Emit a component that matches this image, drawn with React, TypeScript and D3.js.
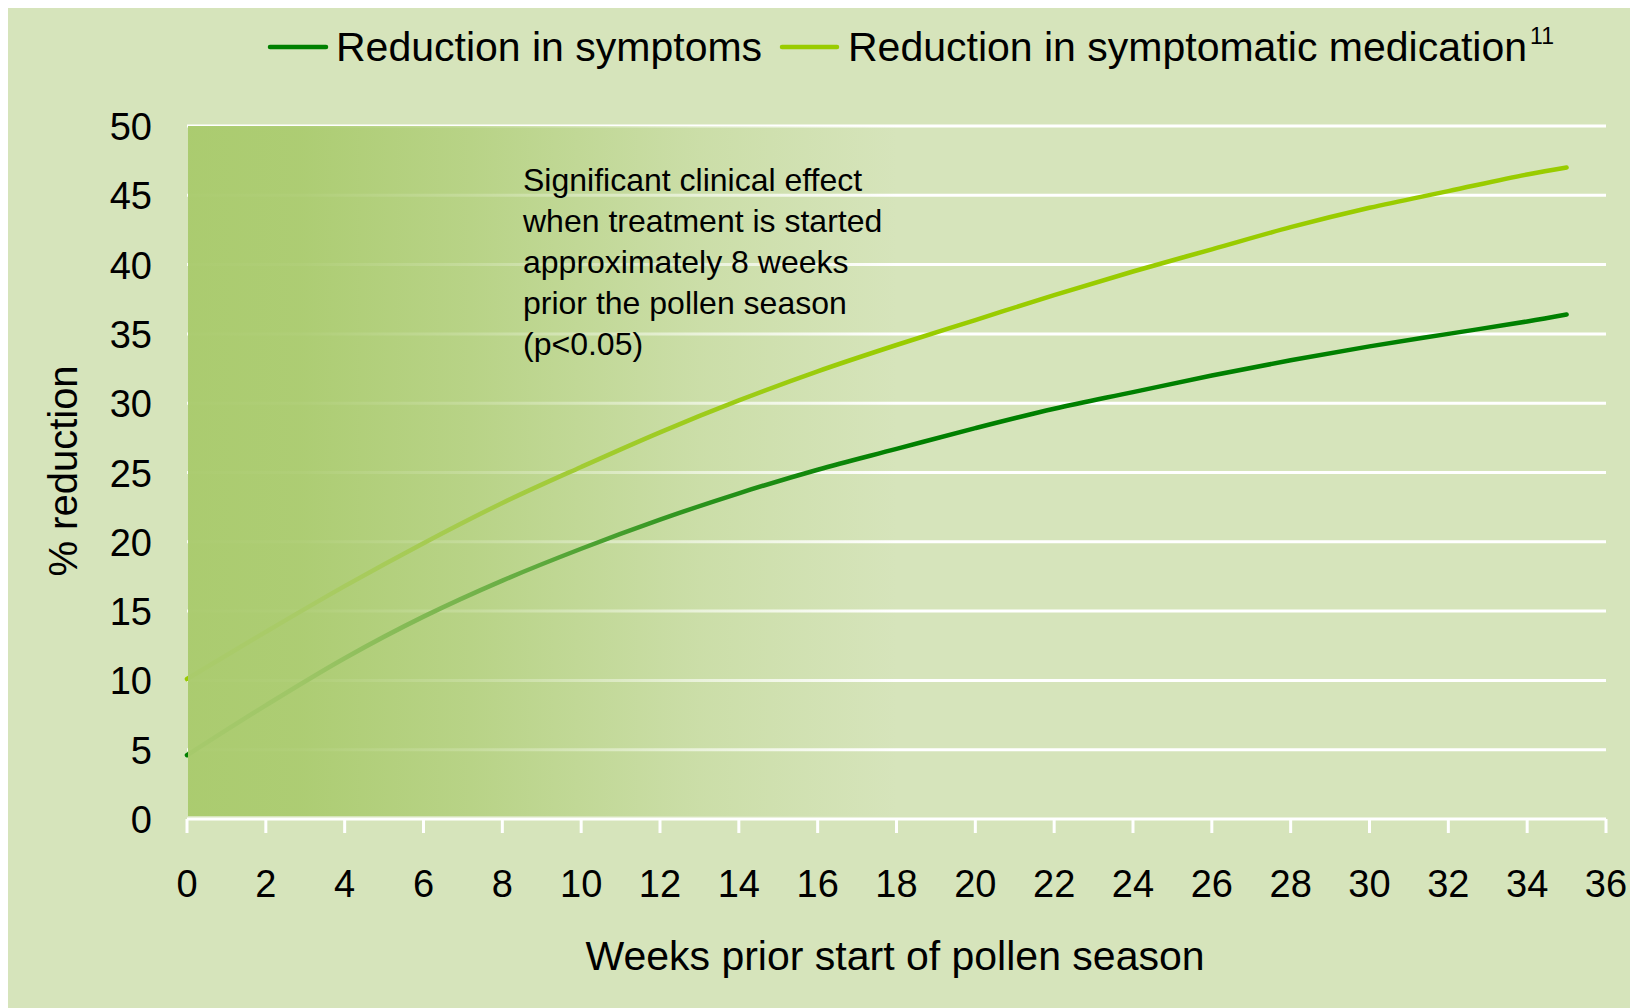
import React, { useEffect } from "react";
import * as d3 from "d3";

const weeks = [0, 2, 4, 6, 8, 10, 12, 14, 16, 18, 20, 22, 24, 26, 28, 30, 32, 34, 35];
const symptoms = [4.6, 8.2, 11.6, 14.6, 17.2, 19.5, 21.6, 23.5, 25.2, 26.7, 28.2, 29.6, 30.8, 32.0, 33.1, 34.1, 35.0, 35.9, 36.4];
const medication = [10.1, 13.5, 16.8, 19.9, 22.8, 25.4, 27.9, 30.2, 32.3, 34.2, 36.0, 37.8, 39.5, 41.1, 42.7, 44.1, 45.3, 46.5, 47.0];
const xTicks = d3.range(0, 37, 2);
const yTicks = d3.range(0, 51, 5);
const seriesNames = ["Reduction in symptoms", "Reduction in symptomatic medication"];
const seriesColors = ["#008000", "#99cc00"];
const legendSup = "11";
const annotation = [
  "Significant clinical effect",
  "when treatment is started",
  "approximately 8 weeks",
  "prior the pollen season",
  "(p<0.05)",
];
const xTitle = "Weeks prior start of pollen season";
const yTitle = "% reduction";

const FONT = "'Liberation Sans', Arial, Helvetica, sans-serif";

export default function App() {
  useEffect(() => {
    document.body.style.overflow = "hidden";
  }, []);

  const W = 1638;
  const H = 1008;
  const x = d3.scaleLinear().domain([0, 36]).range([187, 1606]);
  const y = d3.scaleLinear().domain([0, 50]).range([819, 126]);

  const line = d3
    .line<[number, number]>()
    .x((d) => x(d[0]))
    .y((d) => y(d[1]))
    .curve(d3.curveCatmullRom.alpha(0.5));

  const symData = weeks.map((w, i) => [w, symptoms[i]] as [number, number]);
  const medData = weeks.map((w, i) => [w, medication[i]] as [number, number]);

  return (
    <svg width={1630} height={1000} style={{ display: "block" }}>
      <g transform="translate(-8,-8)">
        <defs>
          <linearGradient id="fade" x1="0" x2="1" y1="0" y2="0">
            <stop offset="0" stopColor="#aacb6e" stopOpacity={0.98} />
            <stop offset="0.08" stopColor="#aacb6e" stopOpacity={0.93} />
            <stop offset="0.2" stopColor="#aacb6e" stopOpacity={0.68} />
            <stop offset="0.36" stopColor="#aacb6e" stopOpacity={0.25} />
            <stop offset="0.5" stopColor="#aacb6e" stopOpacity={0} />
            <stop offset="1" stopColor="#aacb6e" stopOpacity={0} />
          </linearGradient>
        </defs>
        <rect x={8} y={8} width={W} height={H} fill="#d6e4bb" />
        {/* gridlines */}
        {yTicks
          .filter((t) => t > 0)
          .map((t) => (
            <line key={t} x1={x(0)} x2={x(36)} y1={y(t)} y2={y(t)} stroke="#ffffff" strokeWidth={3} />
          ))}
        {/* x axis */}
        <line x1={x(0)} x2={x(36)} y1={y(0)} y2={y(0)} stroke="#ffffff" strokeWidth={3} />
        {xTicks.map((t) => (
          <line key={t} x1={x(t)} x2={x(t)} y1={y(0)} y2={y(0) + 14} stroke="#ffffff" strokeWidth={3} />
        ))}
        {/* lines */}
        <path d={line(medData) || ""} fill="none" stroke={seriesColors[1]} strokeWidth={4.5} strokeLinecap="round" />
        <path d={line(symData) || ""} fill="none" stroke={seriesColors[0]} strokeWidth={4.5} strokeLinecap="round" />
        {/* fading overlay */}
        <rect x={x(0) + 1} y={y(50)} width={x(36) - x(0) - 1} height={y(0) - y(50) - 3} fill="url(#fade)" />
        {/* y tick labels */}
        {yTicks.map((t) => (
          <text key={t} x={152} y={y(t) + 14} textAnchor="end" fontFamily={FONT} fontSize={38} fill="#000">
            {t}
          </text>
        ))}
        {/* x tick labels */}
        {xTicks.map((t) => (
          <text key={t} x={x(t)} y={897} textAnchor="middle" fontFamily={FONT} fontSize={38} fill="#000">
            {t}
          </text>
        ))}
        <text x={895} y={970} textAnchor="middle" fontFamily={FONT} fontSize={41} fill="#000">
          {xTitle}
        </text>
        <text
          transform={`translate(77,471) rotate(-90)`}
          textAnchor="middle"
          fontFamily={FONT}
          fontSize={40}
          fill="#000"
        >
          {yTitle}
        </text>
        {/* annotation */}
        {annotation.map((s, i) => (
          <text key={i} x={523} y={191 + i * 41} fontFamily={FONT} fontSize={32} fill="#000">
            {s}
          </text>
        ))}
        {/* legend */}
        <line x1={270} x2={326} y1={47} y2={47} stroke={seriesColors[0]} strokeWidth={4.5} strokeLinecap="round" />
        <text x={336} y={61} fontFamily={FONT} fontSize={41} fill="#000">
          {seriesNames[0]}
        </text>
        <line x1={782} x2={837} y1={47} y2={47} stroke={seriesColors[1]} strokeWidth={4.5} strokeLinecap="round" />
        <text x={848} y={61} fontFamily={FONT} fontSize={41} fill="#000">
          {seriesNames[1]}
          <tspan fontSize={23} dy={-17} dx={3}>
            {legendSup}
          </tspan>
        </text>
      </g>
    </svg>
  );
}
